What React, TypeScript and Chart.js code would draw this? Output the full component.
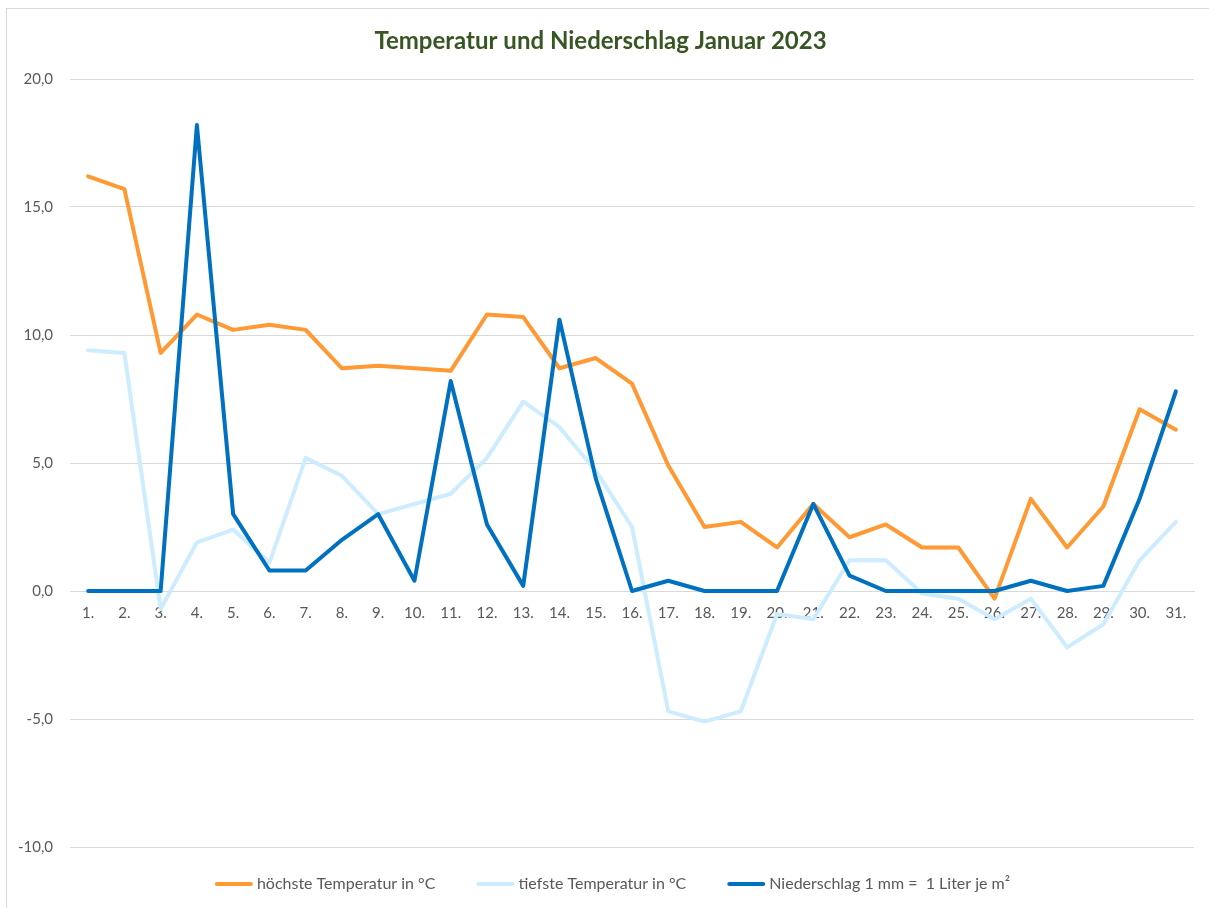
import React, { useEffect, useRef } from "react";
import { Chart, registerables } from "chart.js";

Chart.register(...registerables);

const days: string[] = [
  "1.", "2.", "3.", "4.", "5.", "6.", "7.", "8.", "9.", "10.",
  "11.", "12.", "13.", "14.", "15.", "16.", "17.", "18.", "19.", "20.",
  "21.", "22.", "23.", "24.", "25.", "26.", "27.", "28.", "29.", "30.", "31.",
];

const maxTemp: number[] = [
  16.2, 15.7, 9.3, 10.8, 10.2, 10.4, 10.2, 8.7, 8.8, 8.7,
  8.6, 10.8, 10.7, 8.7, 9.1, 8.1, 4.9, 2.5, 2.7, 1.7,
  3.4, 2.1, 2.6, 1.7, 1.7, -0.3, 3.6, 1.7, 3.3, 7.1, 6.3,
];

const minTemp: number[] = [
  9.4, 9.3, -0.7, 1.9, 2.4, 1.1, 5.2, 4.5, 3.0, 3.4,
  3.8, 5.2, 7.4, 6.4, 4.7, 2.5, -4.7, -5.1, -4.7, -0.9,
  -1.1, 1.2, 1.2, -0.1, -0.3, -1.1, -0.3, -2.2, -1.3, 1.2, 2.7,
];

const rain: number[] = [
  0, 0, 0, 18.2, 3.0, 0.8, 0.8, 2.0, 3.0, 0.4,
  8.2, 2.6, 0.2, 10.6, 4.4, 0, 0.4, 0, 0, 0,
  3.4, 0.6, 0, 0, 0, 0, 0.4, 0, 0.2, 3.6, 7.8,
];

const seriesLabels: string[] = [
  "höchste Temperatur in °C",
  "tiefste Temperatur in °C",
  "Niederschlag 1 mm =  1 Liter je m²",
];

const title = "Temperatur und Niederschlag Januar 2023";

const FONT = "Lato, 'Open Sans', sans-serif";
const TEXT_COLOR = "#595959";
const GRID_COLOR = "#d9d9d9";

const legendPlugin = {
  id: "excelLegend",
  afterDraw(chart: any) {
    const ctx = chart.ctx as CanvasRenderingContext2D;
    ctx.save();
    ctx.font = `16px ${FONT}`;
    const lineW = 38;
    const gapText = 4;
    const gapItem = 41;
    const items = chart.data.datasets.map((ds: any) => ({
      label: ds.label as string,
      color: ds.borderColor as string,
    }));
    const widths = items.map(
      (it: any) => lineW + gapText + ctx.measureText(it.label).width
    );
    const total =
      widths.reduce((a: number, b: number) => a + b, 0) +
      gapItem * (items.length - 1);
    let x = chart.width / 2 + 4.5 - total / 2;
    const y = chart.chartArea.bottom + 37;
    items.forEach((it: any, i: number) => {
      ctx.strokeStyle = it.color;
      ctx.lineWidth = 4;
      ctx.lineCap = "round";
      ctx.beginPath();
      ctx.moveTo(x + 2, y);
      ctx.lineTo(x + lineW - 2, y);
      ctx.stroke();
      ctx.fillStyle = TEXT_COLOR;
      ctx.textBaseline = "middle";
      ctx.textAlign = "left";
      ctx.fillText(it.label, x + lineW + gapText, y);
      x += widths[i] + gapItem;
    });
    ctx.restore();
  },
};

export default function App() {
  const canvasRef = useRef<HTMLCanvasElement | null>(null);

  useEffect(() => {
    if (!canvasRef.current) return;
    const lineCommon = {
      borderWidth: 4,
      pointRadius: 0,
      pointHoverRadius: 0,
      tension: 0,
      borderJoinStyle: "round" as const,
      borderCapStyle: "round" as const,
      fill: false,
    };
    const chart = new Chart(canvasRef.current, {
      type: "line",
      data: {
        labels: days,
        datasets: [
          {
            label: seriesLabels[0],
            data: maxTemp,
            borderColor: "#ff9933",
            backgroundColor: "#ff9933",
            order: 3,
            ...lineCommon,
          },
          {
            label: seriesLabels[1],
            data: minTemp,
            borderColor: "#cdecff",
            backgroundColor: "#cdecff",
            order: 2,
            ...lineCommon,
          },
          {
            label: seriesLabels[2],
            data: rain,
            borderColor: "#0070c0",
            backgroundColor: "#0070c0",
            order: 1,
            ...lineCommon,
          },
        ],
      },
      options: {
        animation: false,
        responsive: true,
        maintainAspectRatio: false,
        layout: { padding: { left: 0, right: 15, top: 0, bottom: 61 } },
        plugins: {
          legend: { display: false },
          tooltip: { enabled: false },
          title: {
            display: true,
            text: title,
            color: "#375623",
            font: { family: FONT, size: 24, weight: "bold" },
            padding: { top: 17.6, bottom: 23.6 },
          },
        },
        scales: {
          x: {
            type: "category",
            position: { y: 0 } as any,
            offset: true,
            grid: { display: false, drawTicks: false },
            border: { display: true, color: GRID_COLOR, width: 1 },
            ticks: {
              color: TEXT_COLOR,
              font: { family: FONT, size: 15 },
              padding: 13,
              autoSkip: false,
              maxRotation: 0,
            },
          },
          y: {
            min: -10,
            max: 20,
            grid: { color: GRID_COLOR, lineWidth: 1, drawTicks: false },
            border: { display: false },
            ticks: {
              stepSize: 5,
              color: TEXT_COLOR,
              font: { family: FONT, size: 15 },
              padding: 17,
              callback: (v: any) => Number(v).toFixed(1).replace(".", ","),
            },
            afterFit: (scale: any) => {
              scale.width = 63;
            },
          },
        },
      },
      plugins: [legendPlugin],
    });
    return () => chart.destroy();
  }, []);

  return (
    <div
      style={{
        position: "absolute",
        left: 6,
        top: 8,
        width: 1203,
        height: 900,
        borderTop: "1px solid #d9d9d9",
        borderLeft: "1px solid #d9d9d9",
        boxSizing: "border-box",
        background: "#ffffff",
      }}
    >
      <canvas ref={canvasRef} />
    </div>
  );
}
